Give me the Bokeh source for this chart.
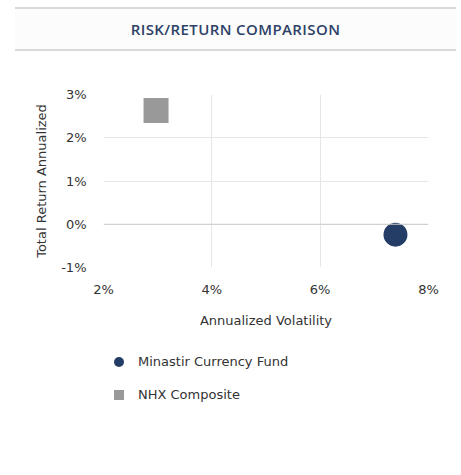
from bokeh.plotting import figure
from bokeh.models import (Range1d, FixedTicker, Span, Legend, LegendItem, Div, ColumnDataSource)
from bokeh.layouts import column
from bokeh.embed import file_html
from bokeh.resources import INLINE

# ---- data ----
title_text = "RISK/RETURN COMPARISON"
names = ["Minastir Currency Fund", "NHX Composite"]
volatility = [7.39, 2.97]      # Annualized Volatility (%)
total_return = [-0.24, 2.63]   # Total Return Annualized (%)
markers = ["circle", "square"]
colors = ["#233d66", "#999999"]
sizes = [24, 25]
x_ticks = [2, 4, 6, 8]
y_ticks = [-1, 0, 1, 2, 3]
x_title = "Annualized Volatility"
y_title = "Total Return Annualized"

FONT = "DejaVu Sans"

header = Div(
    text=(f'<div style="box-sizing:border-box;width:441px;height:44px;'
          f'border-top:2px solid #d9d9d9;border-bottom:2px solid #d9d9d9;'
          f'background:#fcfcfc;text-align:center;line-height:40px;letter-spacing:0.4px;'
          f'font-family:\'Open Sans\';font-weight:600;font-size:15px;color:#2d4167;">'
          f'{title_text}</div>'),
    width=441, height=44, margin=(7, 0, 0, 15))

p = figure(width=445, height=290, output_backend="svg", toolbar_location=None,
           x_range=Range1d(x_ticks[0], x_ticks[-1]), y_range=Range1d(y_ticks[0], y_ticks[-1]),
           min_border_left=95, min_border_right=25, min_border_top=43, min_border_bottom=74,
           margin=(0, 0, 0, 8))
p.outline_line_color = None
p.background_fill_color = "white"
p.border_fill_color = "white"

for ax in (p.xaxis[0], p.yaxis[0]):
    ax.axis_line_color = None
    ax.major_tick_line_color = None
    ax.minor_tick_line_color = None
    ax.major_tick_out = 0
    ax.major_tick_in = 0
    ax.major_label_text_font = FONT
    ax.major_label_text_font_size = "13px"
    ax.major_label_text_color = "#333333"
    ax.axis_label_text_font = FONT
    ax.axis_label_text_font_size = "13px"
    ax.axis_label_text_font_style = "normal"
    ax.axis_label_text_color = "#333333"

p.xaxis.ticker = FixedTicker(ticks=x_ticks)
p.yaxis.ticker = FixedTicker(ticks=y_ticks)
p.xaxis.major_label_overrides = {t: f"{t}%" for t in x_ticks}
p.yaxis.major_label_overrides = {t: f"{t}%" for t in y_ticks}
p.xaxis.axis_label = x_title
p.yaxis.axis_label = y_title
p.xaxis.major_label_standoff = 14
p.yaxis.major_label_standoff = 17
p.xaxis.axis_label_standoff = 13
p.yaxis.axis_label_standoff = 9

p.xgrid.grid_line_color = "#e6e6e6"
p.ygrid.grid_line_color = "#e6e6e6"
p.add_layout(Span(location=0, dimension="width", line_color="#cccccc", line_width=1))

for xv, yv, m, c, s in zip(volatility, total_return, markers, colors, sizes):
    src = ColumnDataSource(dict(x=[xv], y=[yv]))
    p.scatter("x", "y", source=src, marker=m, size=s, fill_color=c, line_color=None)

# ---- legend panel (separate canvas so it is not clipped by the plot frame) ----
lg = figure(width=445, height=100, output_backend="svg", toolbar_location=None,
            x_range=Range1d(0, 1), y_range=Range1d(0, 1),
            x_axis_location=None, y_axis_location=None,
            min_border=0, margin=(0, 0, 0, 8))
lg.outline_line_color = None
lg.xgrid.visible = False
lg.ygrid.visible = False

items = []
for n, xv, yv, m, c in zip(names, volatility, total_return, markers, colors):
    src = ColumnDataSource(dict(x=[xv], y=[yv]))
    r = lg.scatter("x", "y", source=src, marker=m, size=10, fill_color=c, line_color=None)
    items.append(LegendItem(label=n, renderers=[r]))

legend = Legend(items=items, location=(3, 34), orientation="vertical",
                glyph_width=25, glyph_height=25, spacing=8, padding=0, margin=0,
                label_standoff=7, label_text_font=FONT, label_text_font_size="13px",
                label_text_color="#333333", border_line_color=None,
                background_fill_alpha=0)
lg.add_layout(legend, "center")

layout = column(header, p, lg, spacing=0)
open("out.html", "w").write(file_html(layout, INLINE))
